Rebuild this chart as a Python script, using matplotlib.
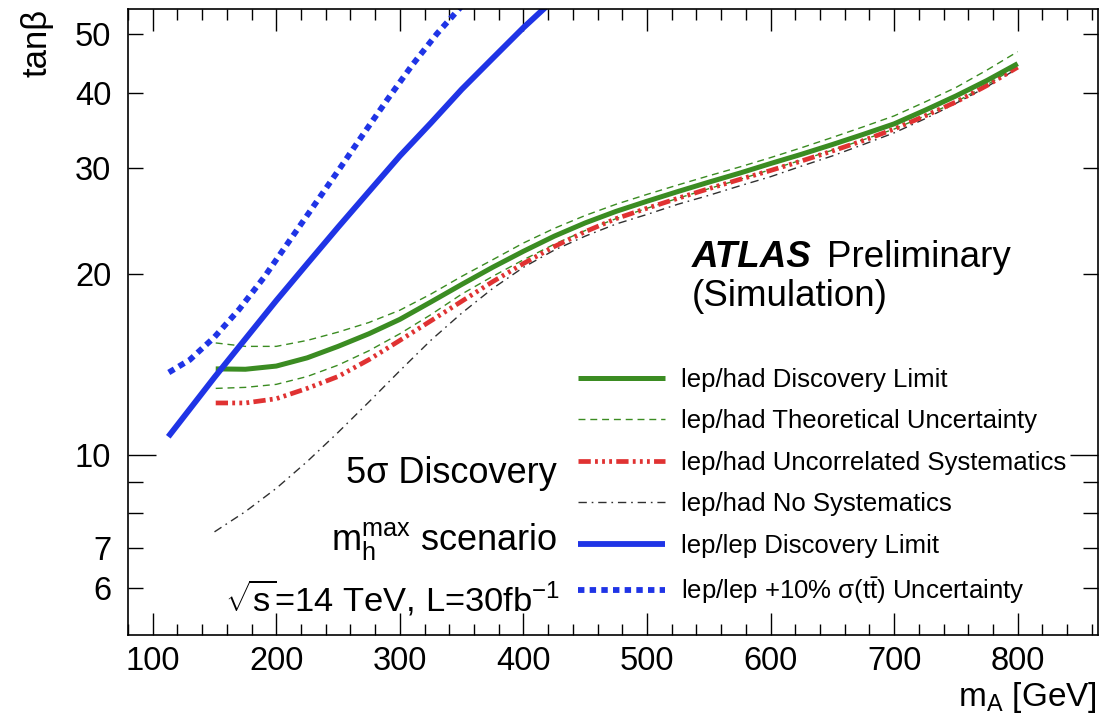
import matplotlib
matplotlib.use('Agg')
import matplotlib.pyplot as plt
from matplotlib.lines import Line2D

plt.rcParams['font.family'] = ['Liberation Sans', 'DejaVu Sans']
plt.rcParams['mathtext.fontset'] = 'custom'
plt.rcParams['mathtext.rm'] = 'Liberation Sans'
plt.rcParams['mathtext.it'] = 'Liberation Sans:italic'
plt.rcParams['mathtext.bf'] = 'Liberation Sans:bold'

# ---------------- data ----------------
lh_x = [151, 175, 200, 225, 250, 275, 300, 325, 350, 375, 400, 425, 450, 475, 500,
        525, 550, 575, 600, 625, 650, 675, 700, 725, 750, 775, 800]
lh_disc = [13.9, 13.88, 14.05, 14.5, 15.15, 15.9, 16.8, 17.95, 19.2, 20.5, 21.8, 23.1, 24.3, 25.4, 26.4,
           27.4, 28.4, 29.4, 30.5, 31.6, 32.8, 34.1, 35.5, 37.4, 39.5, 41.9, 44.7]
lh_theo_up = [15.35, 15.15, 15.15, 15.5, 16.0, 16.6, 17.4, 18.5, 19.8, 21.1, 22.5, 23.8, 25.0, 26.1, 27.1,
              28.1, 29.1, 30.1, 31.2, 32.4, 33.7, 35.1, 36.6, 38.6, 40.8, 43.6, 46.8]
lh_theo_dn = [12.9, 12.95, 13.1, 13.5, 14.1, 14.9, 15.9, 17.1, 18.5, 19.8, 21.1, 22.4, 23.6, 24.7, 25.7,
              26.7, 27.7, 28.7, 29.8, 30.9, 32.1, 33.4, 34.8, 36.6, 38.6, 41.2, 44.3]
lh_uncorr = [12.2, 12.2, 12.4, 12.9, 13.5, 14.4, 15.5, 16.7, 18.0, 19.4, 20.8, 22.2, 23.5, 24.7, 25.7,
             26.7, 27.7, 28.7, 29.7, 30.8, 32.0, 33.3, 34.8, 36.6, 38.6, 41.1, 44.1]
lh_nosys_x = [150, 175, 200, 225, 250, 275, 300, 325, 350, 375, 400, 425, 450, 475, 500,
              525, 550, 575, 600, 625, 650, 675, 700, 725, 750, 775, 800]
lh_nosys = [7.45, 8.05, 8.8, 9.75, 10.9, 12.25, 13.8, 15.5, 17.2, 18.9, 20.5, 21.9, 23.1, 24.2, 25.1,
            26.1, 27.0, 28.0, 29.0, 30.2, 31.4, 32.8, 34.3, 36.2, 38.4, 40.9, 43.9]

ll_x = [112.6, 125, 150, 175, 200, 225, 250, 275, 300, 325, 350, 375, 400, 440]
ll_disc = [10.72, 11.56, 13.46, 15.59, 18.05, 20.78, 23.9, 27.4, 31.4, 35.6, 40.5, 45.6, 51.3, 61.1]
ll_tt_x = [113, 130, 150, 170, 190, 210, 230, 250, 270, 290, 310, 330, 350, 365]
ll_tt = [13.71, 14.39, 15.70, 17.46, 19.72, 22.59, 25.88, 29.65, 34.04, 38.99, 44.46, 50.12, 55.72, 59.84]

x_major = [100, 200, 300, 400, 500, 600, 700, 800]
y_major = [10]
y_minor = [6, 7, 8, 9, 20, 30, 40, 50]
y_minor_labels = ['6', '7', '', '', '20', '30', '40', '50']

labels = ['lep/had Discovery Limit', 'lep/had Theoretical Uncertainty',
          'lep/had Uncorrelated Systematics', 'lep/had No Systematics',
          'lep/lep Discovery Limit', r'lep/lep +10% σ(t$\bar{\mathrm{t}}$) Uncertainty']

# ---------------- styles ----------------
GREEN = '#3b8c22'
RED = '#e03232'
BLUE = '#1f34e6'
BLACK = '#303030'

W, H = 1106, 721
fig = plt.figure(figsize=(W / 100, H / 100), dpi=100)
fig.patch.set_facecolor('white')
ax = fig.add_axes([128 / W, 1 - 635 / H, (1098 - 128) / W, (635 - 9) / H])

st_disc = dict(color=GREEN, lw=3.6, solid_capstyle='butt')
st_theo = dict(color=GREEN, lw=1.0, dashes=(5, 3.5))
st_unc = dict(color=RED, lw=3.4, dashes=(2.6, 0.9, 0.6, 0.9, 0.6, 0.9, 0.6, 0.9), dash_capstyle='butt')
st_nos = dict(color=BLACK, lw=1.0, dashes=(6, 3.5, 1.2, 3.5))
st_ll = dict(color=BLUE, lw=4.2, solid_capstyle='butt')
st_tt = dict(color=BLUE, lw=4.2, dashes=(1.1, 0.9), dash_capstyle='butt')

ax.plot(lh_x, lh_theo_up, **st_theo)
ax.plot(lh_x, lh_theo_dn, **st_theo)
ax.plot(lh_nosys_x, lh_nosys, **st_nos)
ax.plot(lh_x, lh_uncorr, **st_unc)
ax.plot(lh_x, lh_disc, **st_disc)
ax.plot(ll_tt_x, ll_tt, **st_tt)
ax.plot(ll_x, ll_disc, **st_ll)

ax.set_yscale('log')
ax.set_xlim(85.5, 865)
ax.set_ylim(5.02, 55.1)

ax.set_xticks(x_major)
ax.set_xticklabels([str(v) for v in x_major])
ax.set_xticks(list(range(80, 866, 20)), minor=True)
ax.set_yticks(y_major)
ax.set_yticklabels([str(v) for v in y_major])
ax.set_yticks(y_minor, minor=True)
ax.set_yticklabels(y_minor_labels, minor=True)

ax.tick_params(axis='both', which='both', direction='in', top=True, right=True,
               width=1.0, color='black', labelsize=23.5)
ax.tick_params(axis='x', which='major', length=15.5, pad=8)
ax.tick_params(axis='x', which='minor', length=7.8)
ax.tick_params(axis='y', which='major', length=20, pad=12)
ax.tick_params(axis='y', which='minor', length=10.5, pad=12)
for s in ax.spines.values():
    s.set_linewidth(1.2)
    s.set_color('black')

# axis titles
fig.text(1097 / W, 1 - 706 / H, r'$\mathrm{m_A}$ [GeV]', ha='right', va='baseline', size=24)
fig.text(37 / W, 1 - 9 / H, 'tanβ', rotation=90, ha='center', va='top', size=25)

# annotations
fig.text(692 / W, 1 - 267 / H, 'ATLAS', weight='bold', style='italic', ha='left', va='baseline', size=26.5)
fig.text(827 / W, 1 - 267 / H, 'Preliminary', ha='left', va='baseline', size=26.5)
fig.text(692 / W, 1 - 306 / H, '(Simulation)', ha='left', va='baseline', size=26.5)

fig.text(557 / W, 1 - 483 / H, '5σ Discovery', ha='right', va='baseline', size=26)
fig.text(557 / W, 1 - 550 / H, r'$\mathrm{m_h^{max}}$ scenario', ha='right', va='baseline', size=26)
fig.text(560 / W, 1 - 612 / H, r'$\sqrt{\mathrm{s}}$=14 TeV, L=30fb$^{\mathrm{-1}}$', ha='right', va='baseline', size=24.8)

# legend
handles = [Line2D([], [], **st_disc), Line2D([], [], **st_theo), Line2D([], [], **st_unc),
           Line2D([], [], **st_nos), Line2D([], [], **st_ll), Line2D([], [], **st_tt)]
ax.legend(handles, labels, loc='upper left', bbox_to_anchor=(578 / W, 1 - 368 / H),
          bbox_transform=fig.transFigure, frameon=False, fontsize=18.5,
          handlelength=3.4, handletextpad=0.62, labelspacing=0.68, borderpad=0, borderaxespad=0)

fig.savefig('out.png', dpi=100, facecolor='white')
